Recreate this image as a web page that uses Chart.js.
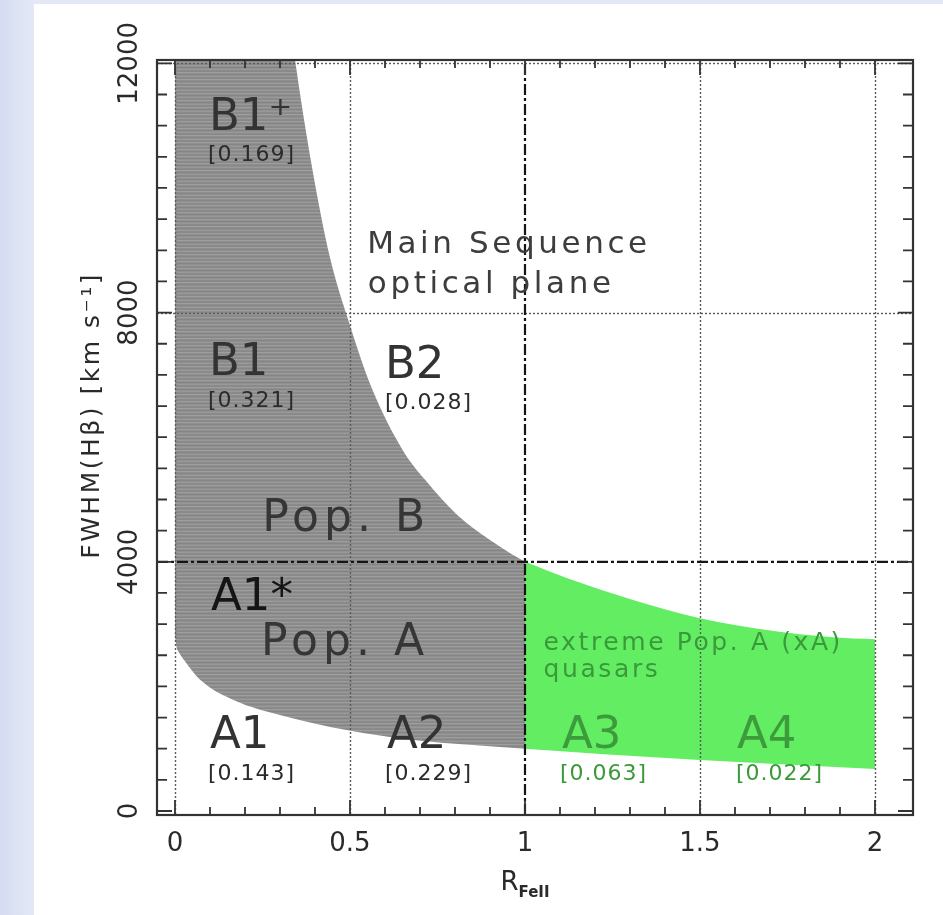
<!DOCTYPE html>
<html><head><meta charset="utf-8">
<script src="https://cdn.jsdelivr.net/npm/chart.js@4.4.0/dist/chart.umd.min.js"></script>
<style>
html,body{margin:0;padding:0;background:#dfe4f4;overflow:hidden;}
#wrap{position:absolute;left:0;top:0;width:943px;height:915px;}
</style></head>
<body><div id="wrap"><canvas id="c" width="943" height="915"></canvas></div>
<script>
// ---------- data ----------
const xTickValues = [0, 0.5, 1, 1.5, 2];
const xTickLabels = ['0', '0.5', '1', '1.5', '2'];
const yTickValues = [0, 4000, 8000, 12000];
const yTickLabels = ['0', '4000', '8000', '12000'];
const xGridDotted = [0, 0.5, 1.5, 2];
const yGridDotted = [8000, 12000];
const xDivider = [1];
const yDivider = [4000];

// grey region (Pop. A / Pop. B main sequence)
const grayUpperX = [0, 0.330, 0.343, 0.391, 0.443, 0.495, 0.562, 0.652, 0.714, 0.805, 0.9, 0.96, 1.0];
const grayUpperY = [12600, 12600, 12054, 10350, 8880, 7880, 6790, 5780, 5320, 4760, 4350, 4130, 4000];
const grayLowerX = [0, 0.004, 0.012, 0.029, 0.071, 0.167, 0.319, 0.49, 0.681, 1.0];
const grayLowerY = [2798, 2640, 2540, 2400, 2110, 1782, 1514, 1300, 1140, 1000];

// green region (extreme Pop. A)
const greenUpperX = [1, 1.119, 1.309, 1.5, 1.69, 1.88, 2];
const greenUpperY = [4000, 3740, 3387, 3093, 2905, 2788, 2756];
const greenLowerX = [1, 1.166, 1.309, 1.5, 1.69, 2];
const greenLowerY = [1000, 936, 883, 819, 762, 674];

// annotations (text, anchor in data units)
const annoText = ['B1\u207A', '[0.169]', 'B1', '[0.321]', 'B2', '[0.028]',
  'Main Sequence', 'optical plane', 'Pop. B', 'A1*', 'Pop. A',
  'extreme Pop. A (xA)', 'quasars', 'A1', '[0.143]', 'A2', '[0.229]',
  'A3', '[0.063]', 'A4', '[0.022]'];
const annoX = [0.097, 0.094, 0.097, 0.094, 0.600, 0.600,
  0.549, 0.551, 0.249, 0.103, 0.246,
  1.053, 1.053, 0.100, 0.094, 0.606, 0.600,
  1.106, 1.100, 1.606, 1.603];
const annoY = [10931, 10433, 6998, 6485, 6950, 6453,
  8957, 8315, 4490, 3226, 2504,
  2584, 2151, 1011, 498, 1011, 498,
  1011, 498, 1011, 498];
const annoKind = ['big', 'val', 'big', 'val', 'big', 'val',
  'seq', 'seq', 'pop', 'bigBlack', 'pop',
  'xa', 'xa', 'big', 'val', 'big', 'val',
  'gbig', 'gval', 'gbig', 'gval'];

// ---------- styles ----------
const FONT = '"DejaVu Sans", "Liberation Sans", sans-serif';
const styles = {
  big:      {size: 45, color: '#333333', sp: 0},
  bigBlack: {size: 45, color: '#151515', sp: 0},
  val:      {size: 22, color: '#2b2b2b', sp: 1},
  seq:      {size: 31, color: '#3d3d3d', sp: 3.6},
  pop:      {size: 44, color: '#363636', sp: 5},
  xa:       {size: 25, color: '#3a9a3a', sp: 2.6},
  gbig:     {size: 45, color: '#3c9c3c', sp: 0},
  gval:     {size: 22, color: '#3a9a3a', sp: 1}
};

const toPts = (xs, ys) => xs.map((x, i) => ({x, y: ys[i]}));

// striped grey pattern
const pc = document.createElement('canvas');
pc.width = 4; pc.height = 7;
const pctx = pc.getContext('2d');
['#8b8b8b', '#888888', '#9e9e9e', '#8e8e8e', '#868686', '#909090', '#999999'].forEach((c, i) => {
  pctx.fillStyle = c; pctx.fillRect(0, i, 4, 1);
});
const grayPattern = pctx.createPattern(pc, 'repeat');

const bgPlugin = {
  id: 'bg',
  beforeDraw(chart) {
    const ctx = chart.ctx;
    const g = ctx.createLinearGradient(0, 0, 34, 0);
    g.addColorStop(0, '#d6dcf1');
    g.addColorStop(1, '#e4e8f6');
    ctx.save();
    ctx.fillStyle = g;
    ctx.fillRect(0, 0, chart.width, chart.height);
    ctx.fillStyle = '#ffffff';
    ctx.fillRect(34, 4, chart.width - 34, chart.height - 4);
    ctx.restore();
  }
};

function spacedText(ctx, txt, x, y, sp) {
  ctx.letterSpacing = sp + 'px';
  ctx.fillText(txt, x, y);
  ctx.letterSpacing = '0px';
}

const overlayPlugin = {
  id: 'overlay',
  afterDatasetsDraw(chart) {
    const ctx = chart.ctx;
    const xs = chart.scales.x, ys = chart.scales.y;
    const a = chart.chartArea;
    ctx.save();
    // dotted grid
    ctx.strokeStyle = '#5a5a5a';
    ctx.lineWidth = 1.4;
    ctx.setLineDash([2, 2]);
    xGridDotted.forEach(v => {
      const p = Math.round(xs.getPixelForValue(v)) + 0.5;
      ctx.beginPath(); ctx.moveTo(p, a.top); ctx.lineTo(p, a.bottom); ctx.stroke();
    });
    yGridDotted.forEach(v => {
      const p = Math.round(ys.getPixelForValue(v)) + 0.5;
      ctx.beginPath(); ctx.moveTo(a.left, p); ctx.lineTo(a.right, p); ctx.stroke();
    });
    // dash-dot dividers
    ctx.strokeStyle = '#151515';
    ctx.lineWidth = 2.2;
    ctx.setLineDash([11, 3, 3, 3]);
    xDivider.forEach(v => {
      const p = xs.getPixelForValue(v);
      ctx.beginPath(); ctx.moveTo(p, a.bottom); ctx.lineTo(p, a.top); ctx.stroke();
    });
    yDivider.forEach(v => {
      const p = ys.getPixelForValue(v);
      ctx.beginPath(); ctx.moveTo(a.left, p); ctx.lineTo(a.right, p); ctx.stroke();
    });
    ctx.setLineDash([]);
    // ticks (inward, all four sides)
    ctx.strokeStyle = '#333333';
    ctx.lineWidth = 1.8;
    for (let i = 0; i <= 20; i++) {
      const v = i / 10;
      const p = xs.getPixelForValue(v);
      const len = (i % 5 === 0) ? 15 : 8;
      ctx.beginPath();
      ctx.moveTo(p, a.bottom); ctx.lineTo(p, a.bottom - len);
      ctx.moveTo(p, a.top); ctx.lineTo(p, a.top + len);
      ctx.stroke();
    }
    for (let v = 0; v <= 12000; v += 500) {
      const p = ys.getPixelForValue(v);
      const len = (v % 4000 === 0) ? 15 : 10;
      ctx.beginPath();
      ctx.moveTo(a.left, p); ctx.lineTo(a.left + len, p);
      ctx.moveTo(a.right, p); ctx.lineTo(a.right - len, p);
      ctx.stroke();
    }
    // frame
    ctx.lineWidth = 2.2;
    ctx.strokeStyle = '#333333';
    ctx.strokeRect(a.left, a.top, a.right - a.left, a.bottom - a.top);

    // y tick labels (rotated)
    ctx.fillStyle = '#2a2a2a';
    ctx.font = '26px ' + FONT;
    ctx.textAlign = 'center';
    ctx.textBaseline = 'middle';
    ys.ticks.forEach(t => {
      const p = ys.getPixelForValue(t.value);
      ctx.save();
      ctx.translate(ys.right - 27, p);
      ctx.rotate(-Math.PI / 2);
      ctx.fillText(yTickLabels[yTickValues.indexOf(t.value)], 0, 0);
      ctx.restore();
    });

    // y title
    ctx.save();
    ctx.translate(ys.right - 65, ys.getPixelForValue(6350));
    ctx.rotate(-Math.PI / 2);
    ctx.font = '25px ' + FONT;
    ctx.fillStyle = '#2a2a2a';
    ctx.textAlign = 'center';
    ctx.textBaseline = 'middle';
    spacedText(ctx, 'FWHM(H\u03B2) [km s\u207B\u00B9]', 0, 0, 2.5);
    ctx.restore();

    // x title  R_FeII
    ctx.textAlign = 'left';
    ctx.textBaseline = 'alphabetic';
    ctx.font = '26px ' + FONT;
    const wR = ctx.measureText('R').width;
    ctx.font = 'bold 15px ' + FONT;
    const wS = ctx.measureText('FeII').width;
    const cx = xs.getPixelForValue(1);
    const x0 = cx - (wR + wS) / 2;
    ctx.fillStyle = '#2a2a2a';
    ctx.font = '26px ' + FONT;
    ctx.fillText('R', x0, a.bottom + 75);
    ctx.font = 'bold 15px ' + FONT;
    ctx.fillText('FeII', x0 + wR, a.bottom + 82);

    // annotations
    annoText.forEach((t, i) => {
      const st = styles[annoKind[i]];
      ctx.font = st.size + 'px ' + FONT;
      ctx.fillStyle = st.color;
      spacedText(ctx, t, xs.getPixelForValue(annoX[i]), ys.getPixelForValue(annoY[i]), st.sp);
    });
    ctx.restore();
  }
};

const curve = {showLine: true, borderWidth: 0, pointRadius: 0, cubicInterpolationMode: 'monotone'};

new Chart(document.getElementById('c'), {
  type: 'scatter',
  data: {
    datasets: [
      Object.assign({data: toPts(grayUpperX, grayUpperY), fill: '+1', backgroundColor: grayPattern}, curve),
      Object.assign({data: toPts(grayLowerX, grayLowerY), fill: false}, curve),
      Object.assign({data: toPts(greenUpperX, greenUpperY), fill: '+1', backgroundColor: '#63ed63'}, curve),
      Object.assign({data: toPts(greenLowerX, greenLowerY), fill: false}, curve)
    ]
  },
  options: {
    responsive: false,
    animation: false,
    devicePixelRatio: 1,
    layout: {padding: {left: 34, top: 60, right: 30, bottom: 0}},
    plugins: {legend: {display: false}, tooltip: {enabled: false}},
    scales: {
      x: {
        type: 'linear', min: -0.0514, max: 2.1086,
        grid: {display: false, drawTicks: false}, border: {display: false},
        ticks: {
          font: {family: FONT, size: 26}, color: '#2a2a2a', padding: 14,
          maxRotation: 0, minRotation: 0, autoSkip: false,
          callback: v => xTickLabels[xTickValues.indexOf(v)]
        },
        afterBuildTicks: s => { s.ticks = xTickValues.map(v => ({value: v})); },
        afterFit: s => { s.height = 100; }
      },
      y: {
        type: 'linear', min: -64, max: 12054,
        grid: {display: false, drawTicks: false}, border: {display: false},
        ticks: {display: false},
        afterBuildTicks: s => { s.ticks = yTickValues.map(v => ({value: v})); },
        afterFit: s => { s.width = 123; }
      }
    }
  },
  plugins: [bgPlugin, overlayPlugin]
});
</script>
</body></html>
